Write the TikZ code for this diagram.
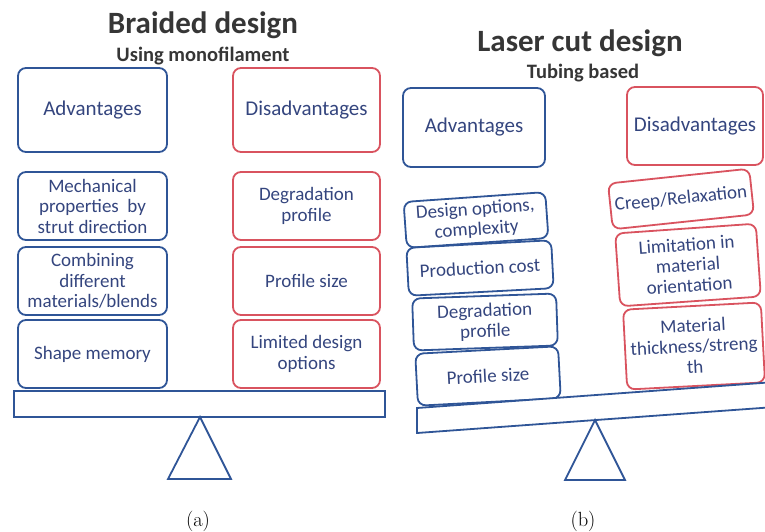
\documentclass[tikz,border=0pt]{standalone}
\usepackage{fontspec}
\newfontfamily\carl{Carlito}
\definecolor{bblue}{HTML}{2F5597}
\definecolor{rred}{HTML}{D9535F}
\definecolor{txtb}{HTML}{34457E}
\definecolor{ttl}{HTML}{363636}
\tikzset{
  box/.style={draw, line width=1.8pt, rounded corners=8pt, align=center,
    inner sep=1pt, text=txtb, font=\carl\fontsize{19}{20.5}\selectfont},
  advbox/.style={box, draw=bblue},
  disbox/.style={box, draw=rred},
  headtxt/.style={font=\carl\fontsize{21}{23}\selectfont},
  beam/.style={draw=bblue, line width=1.8pt, fill=white},
  pivot/.style={draw=bblue, line width=1.8pt, line join=miter},
  title/.style={text=ttl, font=\carl\bfseries\fontsize{31}{33}\selectfont},
  subtitle/.style={text=ttl, font=\carl\bfseries\fontsize{20.5}{22}\selectfont},
  caption/.style={font=\fontsize{20.5}{22}\selectfont}
}
\begin{document}
\begin{tikzpicture}[x=1pt,y=-1pt]
\useasboundingbox (0,0) rectangle (765,531);
% ---------- (a) braided design ----------
\node[title] (ta) at (203,25) {Braided design};
\node[subtitle] (sa) at (203,56) {Using monofilament};
\node[advbox, headtxt, minimum width=149pt, minimum height=84pt] (aadv) at (92.5,110) {Advantages};
\node[disbox, headtxt, minimum width=147pt, minimum height=84pt] (adis) at (306.5,110) {Disadvantages};
\node[advbox, minimum width=149pt, minimum height=68pt] (amech) at (92.5,206) {Mechanical\\properties\ \ by\\strut direction};
\node[disbox, minimum width=147pt, minimum height=68pt] (adeg) at (306.5,206) {Degradation\\profile};
\node[advbox, minimum width=149pt, minimum height=68pt] (acomb) at (92.5,281) {Combining\\different\\materials/blends};
\node[disbox, minimum width=147pt, minimum height=68pt] (aprof) at (306.5,281) {Profile size};
\node[advbox, minimum width=149pt, minimum height=68pt] (ashape) at (92.5,354) {Shape memory};
\node[disbox, minimum width=147pt, minimum height=68pt] (alim) at (306.5,354) {Limited design\\options};
\draw[beam] (14,391) rectangle (385,417);
\coordinate (apa) at (200,417);
\coordinate (apb) at (168,479);
\coordinate (apc) at (231,479);
\draw[pivot] (apa) -- (apb) -- (apc) -- cycle;
\node[caption] (capa) at (198,521) {(a)};
% ---------- (b) laser cut design ----------
\node[title] (tb) at (580,43) {Laser cut design};
\node[subtitle] (sb) at (583,73) {Tubing based};
\node[advbox, headtxt, minimum width=142pt, minimum height=79pt] (badv) at (474,127.5) {Advantages};
\node[disbox, headtxt, minimum width=136pt, minimum height=78pt] (bdis) at (695,126) {Disadvantages};
\node[advbox, minimum width=142pt, minimum height=46pt, rotate=4] (bdes) at (476,220) {Design options,\\complexity};
\node[advbox, minimum width=145pt, minimum height=48pt, rotate=3] (bcost) at (480,268) {Production cost};
\node[advbox, minimum width=144pt, minimum height=52pt, rotate=2] (bdeg) at (485,322) {Degradation\\profile};
\node[advbox, minimum width=143pt, minimum height=52pt, rotate=3] (bprof) at (488,376) {Profile size};
\node[disbox, minimum width=142pt, minimum height=46pt, rotate=6] (bcreep) at (681,199) {Creep/Relaxation};
\node[disbox, minimum width=141pt, minimum height=73pt, rotate=4] (blim) at (688,265) {Limitation in\\material\\orientation};
\node[disbox, minimum width=138pt, minimum height=80pt, rotate=3] (bmat) at (694,346) {Material\\thickness/streng\\th};
\draw[beam] (417,408) -- (775,382) -- (775,407) -- (417,433) -- cycle;
\coordinate (bpa) at (595,420);
\coordinate (bpb) at (565,480);
\coordinate (bpc) at (625,480);
\draw[pivot] (bpa) -- (bpb) -- (bpc) -- cycle;
\node[caption] (capb) at (583,521) {(b)};
\end{tikzpicture}
\end{document}
